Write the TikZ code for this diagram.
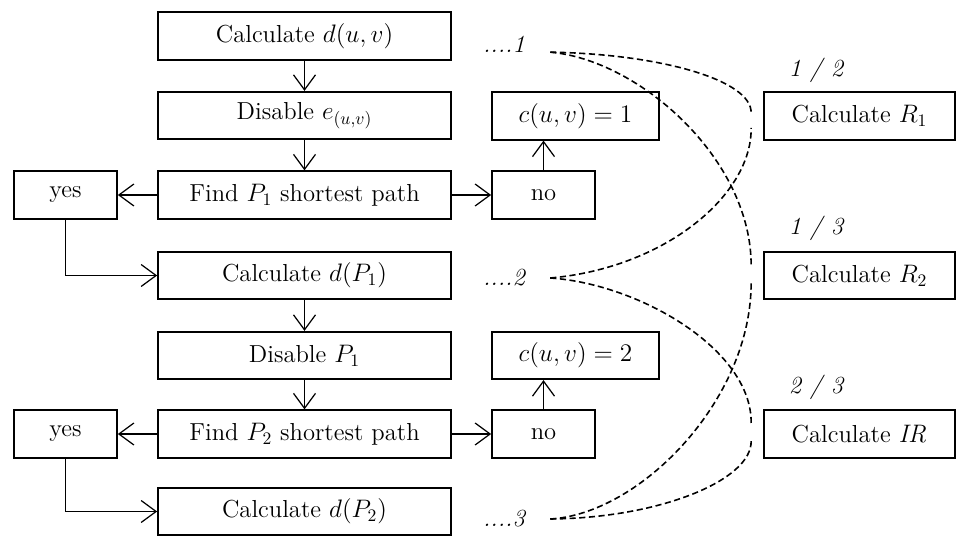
\documentclass[tikz,border=0pt]{standalone}
\usepackage{amsmath,amssymb}
\usepackage{tikz}
\usetikzlibrary{arrows.meta,calc}

\tikzset{
  box/.style={draw,line width=1pt,minimum height=0.95cm,inner sep=0pt,font=\fontsize{14}{16}\selectfont},
  mainbox/.style={box,minimum width=5.86cm},
  smallbox/.style={box,minimum width=2.06cm},
  costbox/.style={box,minimum width=3.34cm},
  ratebox/.style={box,minimum width=3.82cm},
  flow/.style={-{Straight Barb[length=3mm,width=4.4mm]},line width=0.7pt},
  pair/.style={dash pattern=on 3.5pt off 2pt,line width=0.9pt},
  lbl/.style={font=\fontsize{14}{16}\selectfont\itshape}
}

\begin{document}
\begin{tikzpicture}[x=0.02cm,y=-0.02cm]
  \useasboundingbox (0,0) rectangle (957,536);
  % Main column
  \node[mainbox] (calc1) at (304.5,36)    {Calculate $d(u,v)$};
  \node[mainbox] (dis1)  at (304.5,115.5) {Disable $e_{(u,v)}$};
  \node[mainbox] (find1) at (304.5,195)   {Find $P_1$ shortest path};
  \node[mainbox] (calc2) at (304.5,275.5) {Calculate $d(P_1)$};
  \node[mainbox] (dis2)  at (304.5,355.5) {Disable $P_1$};
  \node[mainbox] (find2) at (304.5,434)   {Find $P_2$ shortest path};
  \node[mainbox] (calc3) at (304.5,511.5) {Calculate $d(P_2)$};
  % Branches
  \node[smallbox] (yes1) at (65.5,195)  {yes};
  \node[smallbox] (no1)  at (543.5,195) {no};
  \node[costbox]  (cut1) at (575.5,116) {$c(u,v)=1$};
  \node[smallbox] (yes2) at (65.5,434)  {yes};
  \node[smallbox] (no2)  at (543.5,434) {no};
  \node[costbox]  (cut2) at (575.5,355.5) {$c(u,v)=2$};
  % Markers
  \node[lbl,inner xsep=0.5cm] (mk1) at (504,44)  {....1};
  \node[lbl,inner xsep=0.5cm] (mk2) at (504,278) {....2};
  \node[lbl,inner xsep=0.5cm] (mk3) at (504,519) {....3};
  % Ratios
  \node[ratebox] (r1) at (859.5,116)   {Calculate $R_1$};
  \node[ratebox] (r2) at (859.5,275.5) {Calculate $R_2$};
  \node[ratebox] (ir) at (859.5,434)   {Calculate $\mathit{IR}$};
  \node[lbl] (q1) at (816,70)  {1 / 2};
  \node[lbl] (q2) at (816,228) {1 / 3};
  \node[lbl] (q3) at (816,387) {2 / 3};
  % Flow arrows
  \draw[flow] (calc1) -- (dis1);
  \draw[flow] (dis1) -- (find1);
  \draw[flow] (find1) -- (yes1);
  \draw[flow] (find1) -- (no1);
  \draw[flow] (no1.north) -- (no1.north |- cut1.south);
  \draw[flow] (yes1.south) |- (calc2.west);
  \draw[flow] (calc2) -- (dis2);
  \draw[flow] (dis2) -- (find2);
  \draw[flow] (find2) -- (yes2);
  \draw[flow] (find2) -- (no2);
  \draw[flow] (no2.north) -- (no2.north |- cut2.south);
  \draw[flow] (yes2.south) |- (calc3.west);
  % Pairings
  \draw[pair] (mk1.base east) .. controls (660,54) and (752,80) .. ([shift={(-12,-3)}]r1.west);
  \draw[pair] (mk2.east) .. controls (665,268) and (752,195) .. ([shift={(-12,12)}]r1.west);
  \draw[pair] (mk1.base east) .. controls (640,60) and (752,160) .. ([shift={(-12,-9)}]r2.west);
  \draw[pair] (mk3.east) .. controls (640,514) and (752,400) .. ([shift={(-12,6)}]r2.west);
  \draw[pair] (mk2.east) .. controls (640,284) and (752,350) .. ([shift={(-12,-11)}]ir.west);
  \draw[pair] (mk3.east) .. controls (660,518) and (752,480) .. ([shift={(-12,7)}]ir.west);
\end{tikzpicture}
\end{document}
